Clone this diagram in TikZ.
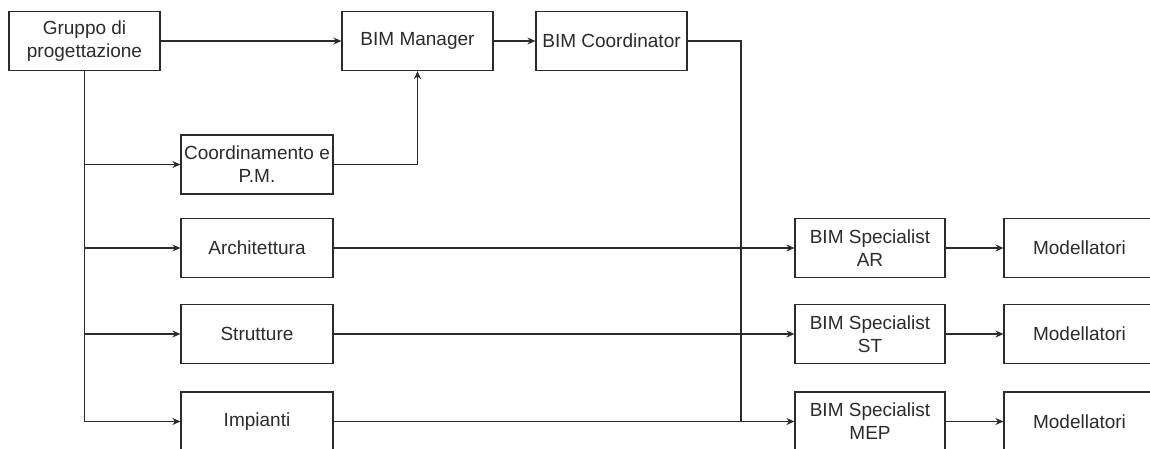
\documentclass[tikz,border=0pt]{standalone}
\usepackage{fontspec}
\setmainfont{Liberation Sans}
\usetikzlibrary{arrows.meta}
\definecolor{ink}{HTML}{2B2B2B}
\tikzset{
  box/.style={draw=ink, line width=1.2pt, minimum width=151pt, minimum height=59pt,
    align=center, inner sep=1pt, text=ink, font=\fontsize{19}{23}\selectfont},
  conn/.style={draw=ink, line width=1.2pt},
  arr/.style={conn, -{Stealth[length=8pt,width=7pt]}}
}
\begin{document}
\begin{tikzpicture}[x=1pt,y=-1pt]
\useasboundingbox (0,0) rectangle (1150,449);
\fill[white] (0,0) rectangle (1150,449);
\clip (0,0) rectangle (1150,449);
\node[box] (g) at (84.5,41) {Gruppo di\\progettazione};
\node[box] (man) at (417.5,41) {BIM Manager};
\node[box] (coo) at (611.5,41) {BIM Coordinator};
\node[box, minimum width=152pt] (cpm) at (257,164.5) {Coordinamento e\\P.M.};
\node[box, minimum width=152pt] (ar) at (257,248) {Architettura};
\node[box, minimum width=152pt] (st) at (257,334) {Strutture};
\node[box, minimum width=152pt] (imp) at (257,421.5) {Impianti};
\node[box, minimum width=150pt] (sar) at (870,248) {BIM Specialist\\AR};
\node[box, minimum width=150pt] (sst) at (870,334) {BIM Specialist\\ST};
\node[box, minimum width=150pt] (smep) at (870,421.5) {BIM Specialist\\MEP};
\node[box] (m1) at (1079.5,248) {Modellatori};
\node[box] (m2) at (1079.5,334) {Modellatori};
\node[box] (m3) at (1079.5,421.5) {Modellatori};
\coordinate (cj) at (741,421.5);
% top row
\draw[arr] (g.east) -- (man.west);
\draw[arr] (man.east) -- (coo.west);
\draw[arr] (cpm.east) -| (man.south);
% trunk from Gruppo
\draw[conn] (g.south) -- (g.south |- imp.west);
\foreach \n in {cpm,ar,st,imp} \draw[arr] (g.south |- \n.west) -- (\n.west);
% to specialists
\draw[arr] (ar.east) -- (sar.west);
\draw[arr] (st.east) -- (sst.west);
\draw[arr] (imp.east) -- (smep.west);
\draw[conn] (coo.east) -| (cj);
% to modellatori
\draw[arr] (sar.east) -- (m1.west);
\draw[arr] (sst.east) -- (m2.west);
\draw[arr] (smep.east) -- (m3.west);
\end{tikzpicture}
\end{document}
